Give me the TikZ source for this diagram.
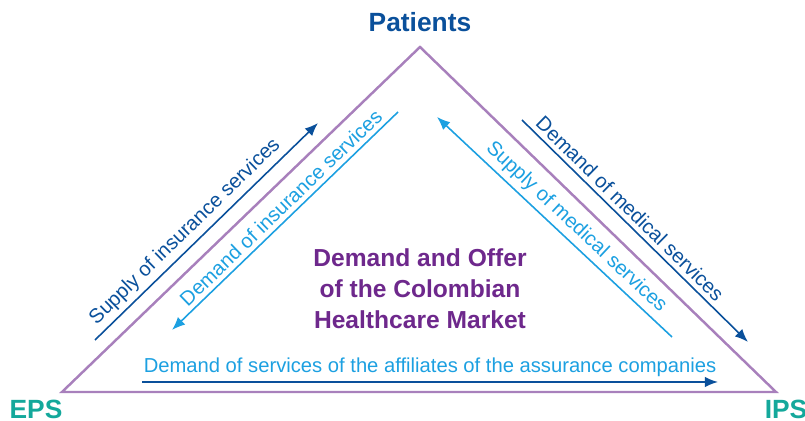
\documentclass[tikz,border=0pt]{standalone}
\usepackage{fontspec}
\setmainfont{Liberation Sans}
\usetikzlibrary{arrows.meta}
\definecolor{darkblue}{RGB}{10,80,155}
\definecolor{lightblue}{RGB}{28,160,225}
\definecolor{triline}{RGB}{168,128,188}
\definecolor{titlepurple}{RGB}{110,40,140}
\definecolor{teal}{RGB}{20,168,155}

\begin{document}
\begin{tikzpicture}[x=0.02cm, y=-0.02cm,
  every node/.style={font=\fontsize{11.5}{14}\selectfont},
  flow/.style={line width=0.9pt, -{Latex[length=7.5pt,width=6pt]}},
  flowlabel/.style={above=2.5pt, sloped, inner sep=0pt},
  corner/.style={font=\bfseries\fontsize{15}{18}\selectfont, text=teal, inner sep=0pt},
  market/.style={font=\bfseries\fontsize{14}{17.6}\selectfont, text=titlepurple, align=center}]
  \useasboundingbox (0,0) rectangle (805,421);
  \coordinate (apex) at (420,47);
  \coordinate (eps corner) at (62,392);
  \coordinate (ips corner) at (776,392);
  \draw[triline, line width=1.4pt] (apex) -- (eps corner) -- (ips corner) -- cycle;
  \node[corner, text=darkblue] (patients) at (420,22) {Patients};
  \node[corner] (eps) at (36,409) {EPS};
  \node[corner] (ips) at (786,409) {IPS};
  \node[market] (title) at (420,289) {Demand and Offer\\of the Colombian\\Healthcare Market};
  \coordinate (supins start) at (95,340);
  \coordinate (supins end) at (318,123);
  \coordinate (demins start) at (398,112);
  \coordinate (demins end) at (172,330);
  \coordinate (supmed start) at (672,337);
  \coordinate (supmed end) at (437,117);
  \coordinate (demmed start) at (522,120);
  \coordinate (demmed end) at (748,342);
  \coordinate (affil start) at (142,382);
  \coordinate (affil end) at (718,382);
  \draw[flow, darkblue] (supins start) -- (supins end)
    node[flowlabel, pos=0.45] {Supply of insurance services};
  \draw[flow, lightblue] (demins start) -- (demins end)
    node[flowlabel, pos=0.48] {Demand of insurance services};
  \draw[flow, lightblue] (supmed start) -- (supmed end)
    node[flowlabel, pos=0.45] {Supply of medical services};
  \draw[flow, darkblue] (demmed start) -- (demmed end)
    node[flowlabel, pos=0.44] {Demand of medical services};
  \draw[flow, darkblue] (affil start) -- (affil end)
    node[flowlabel, pos=0.5, text=lightblue] {Demand of services of the affiliates of the assurance companies};
\end{tikzpicture}
\end{document}
